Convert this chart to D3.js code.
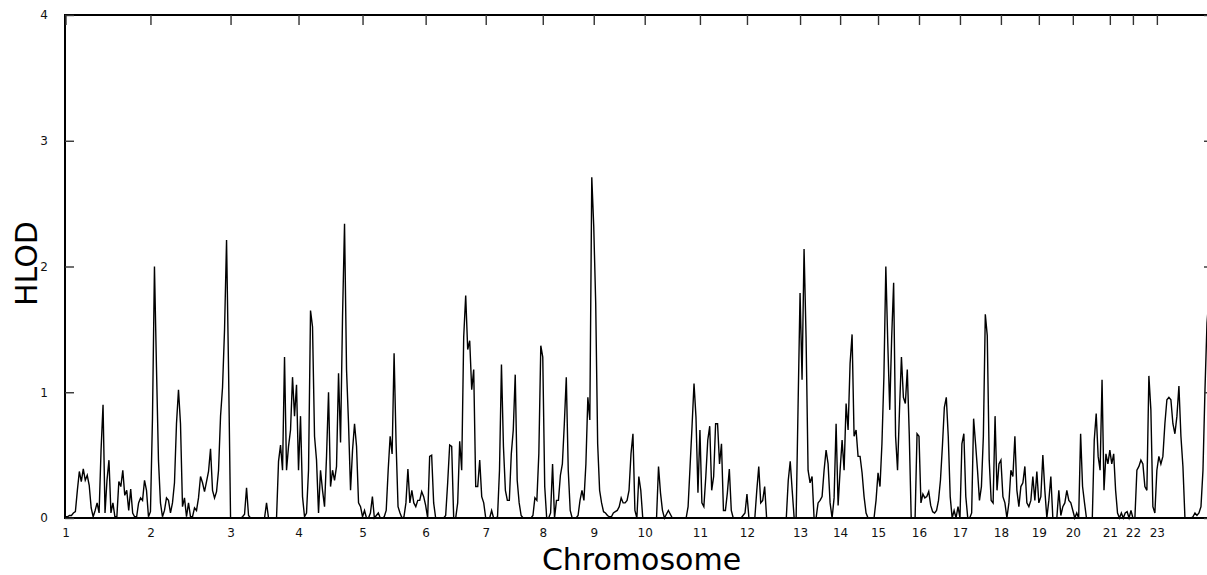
<!DOCTYPE html>
<html>
<head>
<meta charset="utf-8">
<script src="https://cdn.jsdelivr.net/npm/d3@7"></script>
<style>
  body { margin: 0; background: #fff; }
  svg { display: block; font-family: "DejaVu Sans", sans-serif; }
</style>
</head>
<body>
<div id="plot"></div>
<script>
// chromosome labels and genetic map lengths (cM)
const chromNames = ["1","2","3","4","5","6","7","8","9","10","11","12","13","14","15","16","17","18","19","20","21","22","23"];
const chromLengths = [280,264,224,211,208,198,188,168,168,182,155,175,132,125,135,135,135,125,112,122,76,79,185];
const yTicks = [0, 1, 2, 3, 4];

// HLOD scores per chromosome, markers evenly spaced along each chromosome
const chr1 = [0.01,0.01,0.02,0.02,0.04,0.05,0.22,0.37,0.29,0.39,0.30,0.34,0.26,0.08,0.01,0.06,0.12,0.04,0.54,0.90,0.04,0.30,0.46,0.04,0.12,0.01,0.01,0.29,0.25,0.38,0.18,0.22,0.06,0.23,0.04,0.01,0.01,0.12,0.16,0.14,0.30,0.22,0.01];
const chr2 = [0.05,0.79,2.00,1.20,0.46,0.12,0.01,0.06,0.16,0.14,0.04,0.12,0.28,0.75,1.02,0.75,0.09,0.16,0.01,0.12,0.01,0.01,0.08,0.06,0.16,0.33,0.28,0.21,0.29,0.37,0.55,0.22,0.16,0.21,0.38,0.81,1.04,1.50,2.21,1.18];
const chr3 = [0,0,0,0,0,0,0.01,0.03,0.24,0.02,0,0,0,0,0,0,0,0,0.12,0,0,0,0,0,0.45,0.58,0.38,1.28,0.38,0.57,0.70,1.12,0.81,1.06];
const chr4 = [0.38,0.81,0.17,0.01,0.04,0.38,1.65,1.52,0.65,0.46,0.04,0.38,0.22,0.09,0.49,1.00,0.25,0.38,0.30,0.41,1.15,0.60,1.60,2.34,1.18,0.75,0.22,0.54,0.75,0.57,0.12,0.09];
const chr5 = [0.01,0.06,0,0,0.04,0.17,0,0.02,0.04,0,0,0.01,0.06,0.38,0.65,0.51,1.31,0.60,0.09,0.04,0,0.01,0.12,0.39,0.12,0.22,0.12,0.09,0.14,0.14,0.21,0.17];
const chr6 = [0.10,0,0.49,0.50,0.12,0,0,0,0,0,0.02,0.28,0.58,0.57,0,0,0.12,0.61,0.38,1.44,1.77,1.34,1.41,1.02,1.18,0.25,0.25,0.46,0.17,0.12];
const chr7 = [0,0,0,0.06,0,0,0.01,0.38,1.22,0.57,0.22,0.14,0.14,0.51,0.70,1.14,0.30,0.12,0.02,0,0,0,0,0,0.02,0.16,0.14,0.51,1.37];
const chr8 = [1.28,0.25,0,0,0.04,0.43,0,0.14,0.14,0.34,0.43,0.75,1.12,0.38,0.06,0,0,0,0.02,0.14,0.22,0.14,0.43,0.96,0.78,2.71];
const chr9 = [2.32,1.71,0.59,0.22,0.12,0.05,0.04,0.02,0.01,0.01,0.04,0.05,0.06,0.09,0.16,0.12,0.12,0.14,0.22,0.51,0.67,0.06,0,0.33,0.22,0];
const chr10 = [0,0,0,0,0,0,0,0.41,0.20,0.06,0,0.03,0.06,0.03,0,0,0,0,0,0,0,0,0.09,0.41,0.73,1.07,0.80,0.20];
const chr11 = [0.70,0.12,0.09,0.33,0.62,0.73,0.22,0.33,0.75,0.75,0.43,0.59,0.06,0.06,0.20,0.39,0.06,0,0,0,0,0,0.02,0.04];
const chr12 = [0.19,0,0,0,0,0.22,0.41,0.12,0.14,0.25,0,0,0,0,0,0,0,0,0,0,0,0.30,0.45,0.22,0,0,0.90];
const chr13 = [1.79,1.10,2.14,1.44,0.38,0.28,0.33,0,0,0.12,0.14,0.17,0.38,0.54,0.43,0.12,0,0.16,0.75,0.10];
const chr14 = [0.38,0.62,0.38,0.91,0.70,1.23,1.46,0.65,0.70,0.49,0.49,0.36,0.17,0.04,0,0,0,0,0.14];
const chr15 = [0.36,0.25,0.59,1.12,2.00,1.39,0.86,1.44,1.87,0.65,0.38,0.86,1.28,0.96,0.91,1.18,0.67,0,0,0,0.67];
const chr16 = [0.65,0.12,0.19,0.16,0.17,0.21,0.10,0.05,0.04,0.06,0.14,0.30,0.57,0.88,0.96,0.65,0.17,0,0.06,0,0.09];
const chr17 = [0,0.59,0.67,0.17,0,0,0.04,0.79,0.59,0.38,0.14,0.25,0.65,1.62,1.45,0.46,0.14,0.12,0.81,0.22,0.43];
const chr18 = [0.46,0.17,0.12,0,0.12,0.38,0.33,0.65,0.22,0.09,0.25,0.28,0.41,0.12,0.09,0.14,0.33,0.14,0.37];
const chr19 = [0.12,0.17,0.50,0.22,0,0.14,0.33,0,0,0,0.22,0.02,0.09,0.12,0.22,0.14,0.12];
const chr20 = [0.06,0,0.04,0,0.67,0.25,0.12,0,0,0,0,0.62,0.83,0.49,0.38,1.10,0.22,0.51,0.43];
const chr21 = [0.54,0.43,0.51,0.22,0.04,0,0.04,0,0.04,0.05,0,0.06];
const chr22 = [0,0,0.38,0.41,0.46,0.43,0.25,0.22,1.13,0.86,0.09,0.04];
const chr23 = [0.38,0.49,0.43,0.49,0.75,0.94,0.96,0.94,0.75,0.67,0.81,1.05,0.65,0.41,0,0,0,0,0.01,0.04,0.02,0.04,0.09,0.38,1.02,1.55,1.75,1.60];

const hlodByChrom = [chr1,chr2,chr3,chr4,chr5,chr6,chr7,chr8,chr9,chr10,chr11,chr12,chr13,chr14,chr15,chr16,chr17,chr18,chr19,chr20,chr21,chr22,chr23];

// cumulative chromosome start positions
const chromStarts = [];
let total = 0;
chromLengths.forEach(len => { chromStarts.push(total); total += len; });

// flatten into genome-wide points
const points = [];
hlodByChrom.forEach((vals, c) => {
  const step = chromLengths[c] / vals.length;
  vals.forEach((v, i) => points.push({ pos: chromStarts[c] + i * step, hlod: v }));
});

const margin = { top: 15, right: -6, bottom: 57, left: 65 },
      width = 1207 - margin.left - margin.right,
      height = 575 - margin.top - margin.bottom;

const svg = d3.select("div#plot")
              .append("svg")
              .attr("width", 1207)
              .attr("height", 575)
            .append("g")
              .attr("transform", `translate(${margin.left},${margin.top})`);

const xScale = d3.scaleLinear().domain([0, total]).range([0.5, width]);
const yScale = d3.scaleLinear().domain([0, 4]).range([height, 0]);

// HLOD curve
svg.append("path")
   .datum(points)
   .attr("fill", "none")
   .attr("stroke", "#000")
   .attr("stroke-width", 1.4)
   .attr("stroke-linejoin", "miter")
   .attr("d", d3.line().x(d => xScale(d.pos)).y(d => yScale(d.hlod)));

// frame
svg.append("rect")
   .attr("x", 0).attr("y", 0)
   .attr("width", width).attr("height", height)
   .attr("fill", "none")
   .attr("stroke", "#000")
   .attr("stroke-width", 2);

// y ticks (inward, both sides)
const yAxisL = d3.axisLeft(yScale).tickValues(yTicks).tickSize(-9).tickPadding(17).tickFormat(d3.format("d"));
const yAxisR = d3.axisRight(yScale).tickValues(yTicks).tickSize(-9).tickFormat("");
svg.append("g").attr("class", "yaxis").call(yAxisL);
svg.append("g").attr("class", "yaxis").attr("transform", `translate(${width},0)`).call(yAxisR);

// chromosome labels at bottom, boundary ticks on top
const xAxisB = d3.axisBottom(xScale).tickValues(chromStarts).tickSize(0).tickPadding(10)
                 .tickFormat((d, i) => chromNames[i]);
const xAxisT = d3.axisTop(xScale).tickValues(chromStarts).tickSize(-10).tickFormat("");
svg.append("g").attr("class", "xaxis").attr("transform", `translate(0,${height})`).call(xAxisB);
svg.append("g").attr("class", "xaxis").call(xAxisT);

svg.selectAll(".domain").remove();
svg.selectAll(".tick line").attr("stroke", "#333").attr("stroke-width", 1.4);
svg.selectAll(".tick text").attr("fill", "#111").style("font-size", "12px")
   .style("font-family", "DejaVu Sans, sans-serif");

// axis titles
svg.append("text")
   .attr("x", 576.5)
   .attr("y", height + 52)
   .attr("text-anchor", "middle")
   .style("font-size", "30px")
   .text("Chromosome");

svg.append("text")
   .attr("transform", "rotate(-90)")
   .attr("x", -height / 2 + 3)
   .attr("y", -28)
   .attr("text-anchor", "middle")
   .style("font-size", "30px")
   .text("HLOD");
</script>
</body>
</html>
